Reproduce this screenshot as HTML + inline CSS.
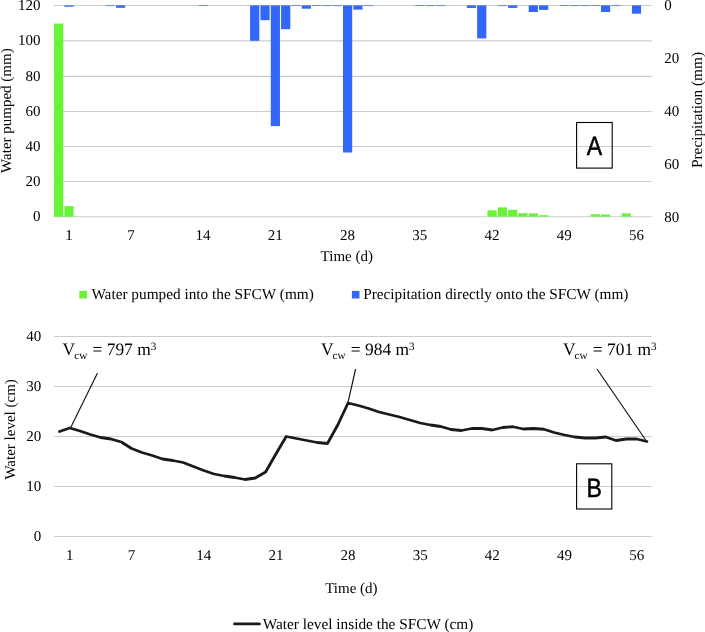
<!DOCTYPE html><html><head><meta charset="utf-8"><style>html,body{margin:0;padding:0;background:#fff;width:705px;height:632px;overflow:hidden}svg{display:block}text{font-family:"Liberation Serif",serif;fill:#000;text-rendering:geometricPrecision}.s{font-family:"Liberation Sans",sans-serif}</style></head><body>
<svg width="705" height="632" viewBox="0 0 705 632">
<defs><filter id="gs" filterUnits="userSpaceOnUse" x="0" y="0" width="705" height="632"><feColorMatrix type="saturate" values="0"/></filter></defs>
<rect width="705" height="632" fill="#fff"/>
<line x1="53.50" y1="216.74" x2="651.7" y2="216.74" stroke="#c8cecf" stroke-width="1.1"/>
<line x1="53.50" y1="181.54" x2="651.7" y2="181.54" stroke="#c8cecf" stroke-width="1.1"/>
<line x1="53.50" y1="146.55" x2="651.7" y2="146.55" stroke="#c8cecf" stroke-width="1.1"/>
<line x1="53.50" y1="111.55" x2="651.7" y2="111.55" stroke="#c8cecf" stroke-width="1.1"/>
<line x1="53.50" y1="76.36" x2="651.7" y2="76.36" stroke="#c8cecf" stroke-width="1.1"/>
<line x1="53.50" y1="40.88" x2="651.7" y2="40.88" stroke="#c8cecf" stroke-width="1.1"/>
<line x1="53.50" y1="5.54" x2="651.7" y2="5.54" stroke="#c8cecf" stroke-width="1.1"/>
<rect x="54.06" y="23.54" width="9.2" height="193.16" fill="#68f434"/>
<rect x="64.38" y="206.13" width="9.2" height="10.56" fill="#68f434"/>
<rect x="487.46" y="210.36" width="9.2" height="6.34" fill="#68f434"/>
<rect x="497.77" y="207.37" width="9.2" height="9.33" fill="#68f434"/>
<rect x="508.09" y="209.83" width="9.2" height="6.87" fill="#68f434"/>
<rect x="518.41" y="213.18" width="9.2" height="3.52" fill="#68f434"/>
<rect x="528.73" y="213.35" width="9.2" height="3.35" fill="#68f434"/>
<rect x="539.05" y="215.20" width="9.2" height="1.50" fill="#68f434"/>
<rect x="590.65" y="214.23" width="9.2" height="2.47" fill="#68f434"/>
<rect x="600.96" y="214.50" width="9.2" height="2.20" fill="#68f434"/>
<rect x="621.60" y="213.35" width="9.2" height="3.35" fill="#68f434"/>
<rect x="64.38" y="5.40" width="9.2" height="1.32" fill="#3366fa"/>
<rect x="105.65" y="5.40" width="9.2" height="0.66" fill="#3366fa"/>
<rect x="115.97" y="5.40" width="9.2" height="2.38" fill="#3366fa"/>
<rect x="198.53" y="5.40" width="9.2" height="0.66" fill="#3366fa"/>
<rect x="250.12" y="5.40" width="9.2" height="35.39" fill="#3366fa"/>
<rect x="260.44" y="5.40" width="9.2" height="14.79" fill="#3366fa"/>
<rect x="270.76" y="5.40" width="9.2" height="120.71" fill="#3366fa"/>
<rect x="281.08" y="5.40" width="9.2" height="23.77" fill="#3366fa"/>
<rect x="291.40" y="5.40" width="9.2" height="0.66" fill="#3366fa"/>
<rect x="301.71" y="5.40" width="9.2" height="3.30" fill="#3366fa"/>
<rect x="312.03" y="5.40" width="9.2" height="0.66" fill="#3366fa"/>
<rect x="322.35" y="5.40" width="9.2" height="0.66" fill="#3366fa"/>
<rect x="332.67" y="5.40" width="9.2" height="0.66" fill="#3366fa"/>
<rect x="342.99" y="5.40" width="9.2" height="147.12" fill="#3366fa"/>
<rect x="353.31" y="5.40" width="9.2" height="4.23" fill="#3366fa"/>
<rect x="363.63" y="5.40" width="9.2" height="0.66" fill="#3366fa"/>
<rect x="415.22" y="5.40" width="9.2" height="0.66" fill="#3366fa"/>
<rect x="425.54" y="5.40" width="9.2" height="0.66" fill="#3366fa"/>
<rect x="435.86" y="5.40" width="9.2" height="0.66" fill="#3366fa"/>
<rect x="466.82" y="5.40" width="9.2" height="2.51" fill="#3366fa"/>
<rect x="477.14" y="5.40" width="9.2" height="33.02" fill="#3366fa"/>
<rect x="497.77" y="5.40" width="9.2" height="0.66" fill="#3366fa"/>
<rect x="508.09" y="5.40" width="9.2" height="2.51" fill="#3366fa"/>
<rect x="528.73" y="5.40" width="9.2" height="6.60" fill="#3366fa"/>
<rect x="539.05" y="5.40" width="9.2" height="4.49" fill="#3366fa"/>
<rect x="559.69" y="5.40" width="9.2" height="0.66" fill="#3366fa"/>
<rect x="570.01" y="5.40" width="9.2" height="0.66" fill="#3366fa"/>
<rect x="580.33" y="5.40" width="9.2" height="0.66" fill="#3366fa"/>
<rect x="590.65" y="5.40" width="9.2" height="0.66" fill="#3366fa"/>
<rect x="600.96" y="5.40" width="9.2" height="6.60" fill="#3366fa"/>
<rect x="611.28" y="5.40" width="9.2" height="0.66" fill="#3366fa"/>
<rect x="631.92" y="5.40" width="9.2" height="8.32" fill="#3366fa"/>
<rect x="576.6" y="122.5" width="35.6" height="45.6" fill="none" stroke="#000" stroke-width="1.1"/>
<rect x="79.3" y="290.9" width="7.7" height="7.6" fill="#68f434"/>
<rect x="351.9" y="290.9" width="7.6" height="7.6" fill="#3366fa"/>
<line x1="54.30" y1="536.50" x2="651.7" y2="536.50" stroke="#c8cecf" stroke-width="1.1"/>
<line x1="54.30" y1="486.50" x2="651.7" y2="486.50" stroke="#c8cecf" stroke-width="1.1"/>
<line x1="54.30" y1="436.50" x2="651.7" y2="436.50" stroke="#c8cecf" stroke-width="1.1"/>
<line x1="54.30" y1="386.50" x2="651.7" y2="386.50" stroke="#c8cecf" stroke-width="1.1"/>
<line x1="54.30" y1="336.50" x2="651.7" y2="336.50" stroke="#c8cecf" stroke-width="1.1"/>
<rect x="576.6" y="463.8" width="35.2" height="45.2" fill="none" stroke="#000" stroke-width="1.1"/>
<g stroke="#111" stroke-width="1.15" fill="none">
<line x1="97.5" y1="373" x2="70.7" y2="427.6"/>
<line x1="355.6" y1="369" x2="348.1" y2="401.8"/>
<line x1="597" y1="369" x2="645.7" y2="440"/>
</g>
<polyline points="59.45,431.50 69.76,428.00 80.07,431.00 90.37,434.50 100.68,437.50 110.99,439.00 121.29,442.00 131.60,448.50 141.91,452.50 152.22,455.50 162.52,459.00 172.83,460.50 183.14,462.50 193.44,466.50 203.75,470.50 214.06,474.00 224.36,476.00 234.67,477.50 244.98,479.50 255.28,478.00 265.59,472.00 275.90,454.00 286.21,436.50 296.51,438.50 306.82,440.50 317.13,442.50 327.43,443.50 337.74,425.00 348.05,403.00 358.35,405.50 368.66,408.50 378.97,412.00 389.27,414.50 399.58,417.00 409.89,420.00 420.19,423.00 430.50,425.00 440.81,426.50 451.12,429.50 461.42,430.50 471.73,428.50 482.04,428.50 492.34,430.00 502.65,427.50 512.96,426.75 523.26,429.00 533.57,428.50 543.88,429.25 554.18,432.50 564.49,435.00 574.80,437.00 585.11,438.00 595.41,438.00 605.72,437.00 616.03,440.50 626.33,439.00 636.64,439.00 646.95,441.50" fill="none" stroke="#1a1a1a" stroke-width="2.8" stroke-linejoin="round" stroke-linecap="round"/>
<line x1="234.5" y1="623.9" x2="259.5" y2="623.9" stroke="#1a1a1a" stroke-width="2.6" stroke-linecap="round"/>
<g filter="url(#gs)">
<text x="40.6" y="221.24" font-size="15.0" text-anchor="end">0</text>
<text x="40.6" y="186.04" font-size="15.0" text-anchor="end">20</text>
<text x="40.6" y="151.05" font-size="15.0" text-anchor="end">40</text>
<text x="40.6" y="116.05" font-size="15.0" text-anchor="end">60</text>
<text x="40.6" y="80.86" font-size="15.0" text-anchor="end">80</text>
<text x="40.6" y="45.38" font-size="15.0" text-anchor="end">100</text>
<text x="40.6" y="10.04" font-size="15.0" text-anchor="end">120</text>
<text x="664.2" y="10.30" font-size="15.0">0</text>
<text x="664.2" y="63.12" font-size="15.0">20</text>
<text x="664.2" y="115.95" font-size="15.0">40</text>
<text x="664.2" y="168.77" font-size="15.0">60</text>
<text x="664.2" y="221.60" font-size="15.0">80</text>
<text x="68.98" y="239.8" font-size="15.0" text-anchor="middle">1</text>
<text x="130.89" y="239.8" font-size="15.0" text-anchor="middle">7</text>
<text x="203.12" y="239.8" font-size="15.0" text-anchor="middle">14</text>
<text x="275.36" y="239.8" font-size="15.0" text-anchor="middle">21</text>
<text x="347.59" y="239.8" font-size="15.0" text-anchor="middle">28</text>
<text x="419.82" y="239.8" font-size="15.0" text-anchor="middle">35</text>
<text x="492.06" y="239.8" font-size="15.0" text-anchor="middle">42</text>
<text x="564.29" y="239.8" font-size="15.0" text-anchor="middle">49</text>
<text x="636.52" y="239.8" font-size="15.0" text-anchor="middle">56</text>
<text x="346.8" y="260.6" font-size="15.0" text-anchor="middle">Time (d)</text>
<text transform="translate(11.2 110.6) rotate(-90)" font-size="15.0" text-anchor="middle">Water pumped (mm)</text>
<text transform="translate(702.0 110) rotate(-90)" font-size="15.3" text-anchor="middle">Precipitation (mm)</text>
<text class="s" transform="translate(594.4 155.2) scale(0.87 1)" font-size="26.5" text-anchor="middle" stroke="#000" stroke-width="0.5">A</text>
<text x="91.4" y="299" font-size="15.3">Water pumped into the SFCW (mm)</text>
<text x="363.2" y="299" font-size="15.3">Precipitation directly onto the SFCW (mm)</text>
<text x="41.2" y="541.40" font-size="15.0" text-anchor="end">0</text>
<text x="41.2" y="491.40" font-size="15.0" text-anchor="end">10</text>
<text x="41.2" y="441.40" font-size="15.0" text-anchor="end">20</text>
<text x="41.2" y="391.40" font-size="15.0" text-anchor="end">30</text>
<text x="41.2" y="341.40" font-size="15.0" text-anchor="end">40</text>
<text x="69.76" y="559.6" font-size="15.0" text-anchor="middle">1</text>
<text x="131.60" y="559.6" font-size="15.0" text-anchor="middle">7</text>
<text x="203.75" y="559.6" font-size="15.0" text-anchor="middle">14</text>
<text x="275.90" y="559.6" font-size="15.0" text-anchor="middle">21</text>
<text x="348.05" y="559.6" font-size="15.0" text-anchor="middle">28</text>
<text x="420.19" y="559.6" font-size="15.0" text-anchor="middle">35</text>
<text x="492.34" y="559.6" font-size="15.0" text-anchor="middle">42</text>
<text x="564.49" y="559.6" font-size="15.0" text-anchor="middle">49</text>
<text x="636.64" y="559.6" font-size="15.0" text-anchor="middle">56</text>
<text x="351.4" y="592.7" font-size="15.0" text-anchor="middle">Time (d)</text>
<text transform="translate(14.6 429.4) rotate(-90)" font-size="15.0" text-anchor="middle">Water level (cm)</text>
<text class="s" transform="translate(594.2 497.0) scale(0.87 1)" font-size="26.5" text-anchor="middle" stroke="#000" stroke-width="0.5">B</text>
<text x="62.6" y="355.2" font-size="17.4">V<tspan font-size="11.2" dx="-0.9" dy="3.8">cw</tspan><tspan dx="0.9" dy="-3.8"> = 797 m</tspan><tspan font-size="11.2" dy="-5.4">3</tspan></text>
<text x="320.9" y="355.2" font-size="17.4">V<tspan font-size="11.2" dx="-0.9" dy="3.8">cw</tspan><tspan dx="0.9" dy="-3.8"> = 984 m</tspan><tspan font-size="11.2" dy="-5.4">3</tspan></text>
<text x="562.9" y="355.2" font-size="17.4">V<tspan font-size="11.2" dx="-0.9" dy="3.8">cw</tspan><tspan dx="0.9" dy="-3.8"> = 701 m</tspan><tspan font-size="11.2" dy="-5.4">3</tspan></text>
<text x="262.8" y="628.6" font-size="15.3">Water level inside the SFCW (cm)</text>
</g>
</svg></body></html>
